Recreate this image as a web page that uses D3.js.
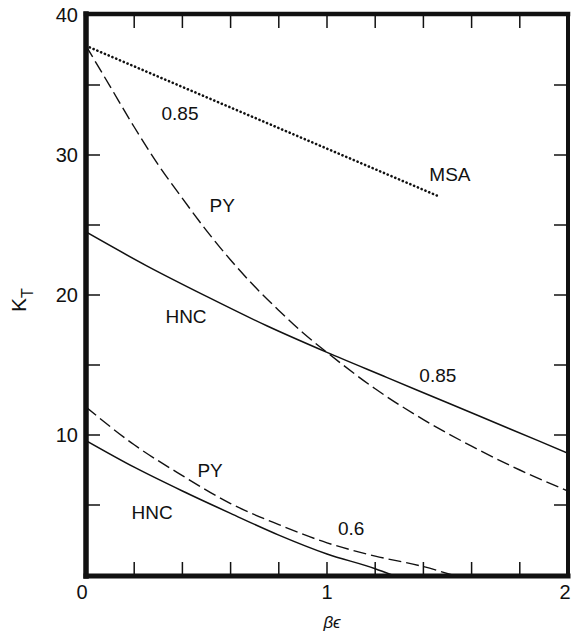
<!DOCTYPE html>
<html>
<head>
<meta charset="utf-8">
<script src="https://cdn.jsdelivr.net/npm/d3@7"></script>
<style>
  html, body { margin: 0; padding: 0; background: #fff; }
  svg { display: block; }
  text { font-family: "Liberation Sans", Arial, Helvetica, sans-serif; fill: #111; }
</style>
</head>
<body>
<svg id="chart" width="571" height="631"></svg>
<script>
// K_T versus beta*epsilon for the PY, HNC and MSA closures
const msa085 = [[0, 37.8], [1.47, 27.0]];
const py085 = [[0, 37.8], [0.1, 34.9], [0.2, 32.0], [0.3, 29.3], [0.4, 26.9], [0.5, 24.6],
               [0.6, 22.5], [0.7, 20.6], [0.8, 18.9], [0.9, 17.3], [1.0, 15.9], [1.2, 13.3],
               [1.4, 11.1], [1.6, 9.2], [1.8, 7.5], [2.0, 6.0]];
const hnc085 = [[0, 24.5], [0.25, 22.1], [0.5, 19.9], [0.75, 17.8], [1.0, 15.9],
                [1.25, 14.1], [1.5, 12.3], [1.75, 10.5], [2.0, 8.7]];
const py06 = [[0, 12.0], [0.2, 9.3], [0.4, 7.1], [0.6, 5.1], [0.8, 3.6], [1.0, 2.3],
              [1.2, 1.35], [1.4, 0.6], [1.52, 0]];
const hnc06 = [[0, 9.6], [0.2, 7.7], [0.4, 6.0], [0.6, 4.4], [0.8, 2.85], [1.0, 1.5],
               [1.2, 0.45], [1.27, 0]];

const xTicks = [0, 0.2, 0.4, 0.6, 0.8, 1.0, 1.2, 1.4, 1.6, 1.8, 2.0];
const xTickLabels = ["0", "1", "2"];
const yTicks = [5, 10, 15, 20, 25, 30, 35, 40];
const yTickLabels = ["10", "20", "30", "40"];

const curveLabels = [
  { text: "0.85", x: 0.39, y: 33.0 },
  { text: "MSA", x: 1.51, y: 28.6 },
  { text: "PY", x: 0.565, y: 26.4 },
  { text: "HNC", x: 0.415, y: 18.5 },
  { text: "0.85", x: 1.46, y: 14.3 },
  { text: "PY", x: 0.515, y: 7.5 },
  { text: "HNC", x: 0.274, y: 4.5 },
  { text: "0.6", x: 1.10, y: 3.35 }
];

const svg = d3.select("#chart");
const plotLeft = 86, plotRight = 568, plotTop = 14, plotBottom = 576;
const x = d3.scaleLinear().domain([0, 2]).range([plotLeft, plotRight]);
const y = d3.scaleLinear().domain([0, 40]).range([575, 15]);

svg.append("clipPath").attr("id", "plotClip")
  .append("rect").attr("x", plotLeft).attr("y", plotTop)
  .attr("width", plotRight - plotLeft).attr("height", plotBottom - plotTop);

const line = d3.line().x(d => x(d[0])).y(d => y(d[1])).curve(d3.curveMonotoneX);

const curves = svg.append("g").attr("clip-path", "url(#plotClip)").attr("fill", "none").attr("stroke", "#111");

curves.append("path").datum(msa085).attr("d", d3.line().x(d => x(d[0])).y(d => y(d[1])))
  .attr("stroke-width", 2.6).attr("stroke-linecap", "round").attr("stroke-dasharray", "0.1 4");
curves.append("path").datum(py085).attr("d", line)
  .attr("stroke-width", 1.4).attr("stroke-dasharray", "13 5");
curves.append("path").datum(hnc085).attr("d", line).attr("stroke-width", 1.5);
curves.append("path").datum(py06).attr("d", line)
  .attr("stroke-width", 1.4).attr("stroke-dasharray", "13 5");
curves.append("path").datum(hnc06).attr("d", line).attr("stroke-width", 1.5);

// inward ticks on all four sides
const tickLen = 14;
const ticks = svg.append("g").attr("stroke", "#111").attr("stroke-width", 1.5);
xTicks.slice(1, -1).forEach(t => {
  ticks.append("line").attr("x1", x(t)).attr("x2", x(t)).attr("y1", plotBottom).attr("y2", plotBottom - tickLen);
  ticks.append("line").attr("x1", x(t)).attr("x2", x(t)).attr("y1", plotTop).attr("y2", plotTop + tickLen);
});
yTicks.slice(0, -1).forEach(t => {
  ticks.append("line").attr("x1", plotLeft).attr("x2", plotLeft + tickLen).attr("y1", y(t)).attr("y2", y(t));
  ticks.append("line").attr("x1", plotRight).attr("x2", plotRight - tickLen).attr("y1", y(t)).attr("y2", y(t));
});

// heavy frame
const frame = svg.append("g").attr("stroke", "#111").attr("stroke-linecap", "square");
frame.append("line").attr("x1", plotLeft).attr("x2", plotLeft).attr("y1", plotTop).attr("y2", plotBottom).attr("stroke-width", 5.5);
frame.append("line").attr("x1", plotLeft).attr("x2", plotRight).attr("y1", plotBottom).attr("y2", plotBottom).attr("stroke-width", 5);
frame.append("line").attr("x1", plotLeft).attr("x2", plotRight).attr("y1", plotTop).attr("y2", plotTop).attr("stroke-width", 4.5);
frame.append("line").attr("x1", plotRight).attr("x2", plotRight).attr("y1", plotTop).attr("y2", plotBottom).attr("stroke-width", 4);

// tick labels
const xLabelShift = { "0": -4, "1": 0, "2": -3 };
xTickLabels.forEach(s => {
  svg.append("text").attr("x", x(+s) + xLabelShift[s]).attr("y", 599)
    .attr("text-anchor", "middle").attr("font-size", 20).text(s);
});
yTickLabels.forEach(s => {
  svg.append("text").attr("x", 78).attr("y", y(+s)).attr("dy", "0.36em")
    .attr("text-anchor", "end").attr("font-size", 20).text(s);
});

// axis titles
svg.append("text").attr("x", 332).attr("y", 628).attr("text-anchor", "middle")
  .attr("font-size", 17).attr("font-style", "italic")
  .attr("font-family", "'DejaVu Serif', 'Liberation Serif', serif").text("βϵ");

const yTitle = svg.append("text").attr("transform", "translate(26,300) rotate(-90)")
  .attr("text-anchor", "middle").attr("font-size", 21);
yTitle.append("tspan").text("K");
yTitle.append("tspan").attr("dy", 7).attr("font-size", 16).text("T");

// curve annotations
svg.append("g").selectAll("text").data(curveLabels).join("text")
  .attr("x", d => x(d.x)).attr("y", d => y(d.y)).attr("dy", "0.36em")
  .attr("text-anchor", "middle").attr("font-size", 19).text(d => d.text);
</script>
</body>
</html>
